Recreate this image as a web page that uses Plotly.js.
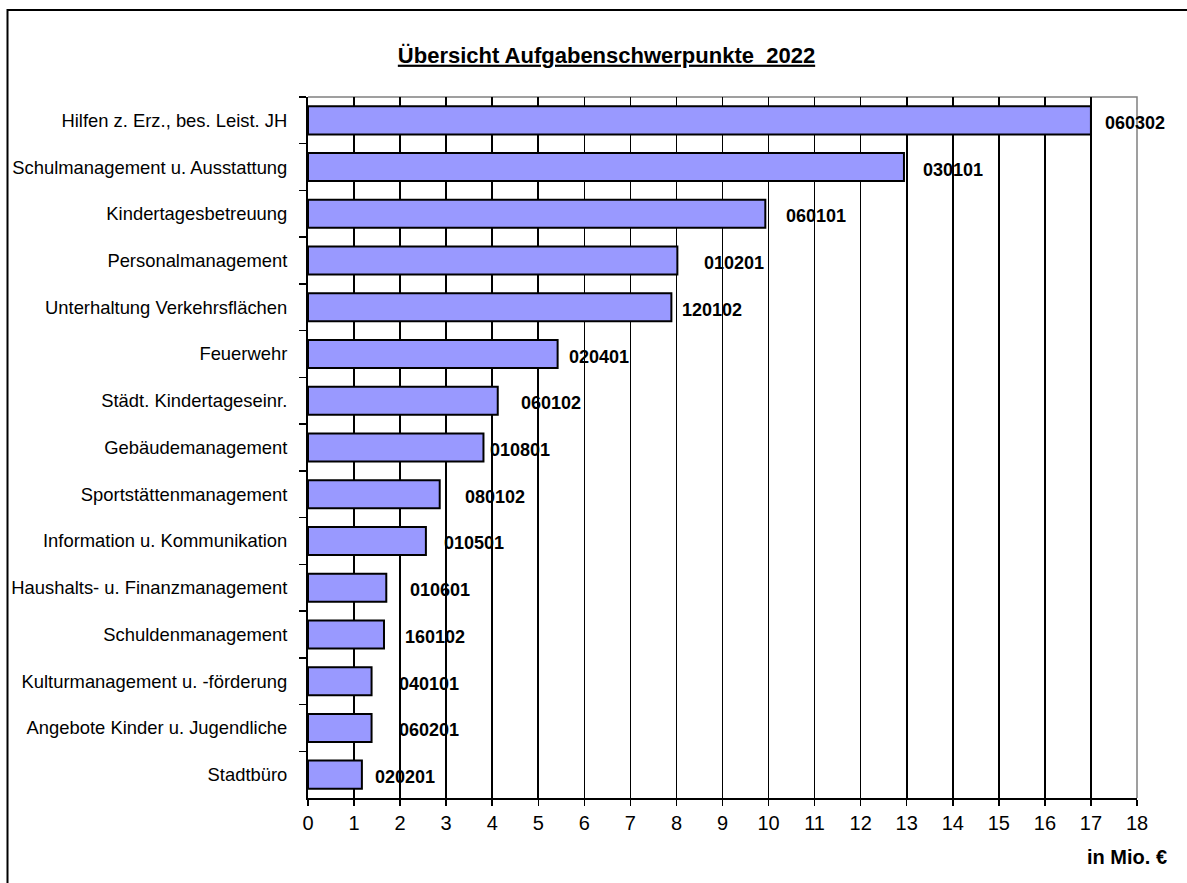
<!DOCTYPE html>
<html>
<head>
<meta charset="utf-8">
<script src="https://cdn.plot.ly/plotly-3.0.1.min.js"></script>
<style>html,body{margin:0;padding:0;background:#fff;}#chart{width:1187px;height:883px;}</style>
</head>
<body>
<div id="chart"></div>
<script>
// Data (top to bottom as in the chart)
const categories = [
  "Hilfen z. Erz., bes. Leist. JH",
  "Schulmanagement u. Ausstattung",
  "Kindertagesbetreuung",
  "Personalmanagement",
  "Unterhaltung Verkehrsflächen",
  "Feuerwehr",
  "Städt. Kindertageseinr.",
  "Gebäudemanagement",
  "Sportstättenmanagement",
  "Information u. Kommunikation",
  "Haushalts- u. Finanzmanagement",
  "Schuldenmanagement",
  "Kulturmanagement u. -förderung",
  "Angebote Kinder u. Jugendliche",
  "Stadtbüro"
];
const values = [17.0, 12.94, 9.93, 8.02, 7.89, 5.42, 4.12, 3.81, 2.86, 2.56, 1.70, 1.65, 1.38, 1.38, 1.17];
const productCodes = ["060302","030101","060101","010201","120102","020401","060102","010801","080102","010501","010601","160102","040101","060201","020201"];
const xTicks = [0,1,2,3,4,5,6,7,8,9,10,11,12,13,14,15,16,17,18];

// label pixel offsets to the right of bar ends (styling)
const labelShift = [13,18,20,26,10,10,22,6,24,17,23,20,26,26,12];

const FONT = "Liberation Sans, Arial, sans-serif";

const trace = {
  type: "bar",
  orientation: "h",
  y: categories,
  x: values,
  width: 0.6,
  marker: {color: "#9999FF", line: {color: "#000000", width: 2}},
  hoverinfo: "skip"
};

const annotations = productCodes.map((c, i) => ({
  x: values[i], y: categories[i], xref: "x", yref: "y",
  text: "<b>" + c + "</b>", showarrow: false,
  xanchor: "left", yanchor: "middle",
  xshift: labelShift[i] - 1, yshift: -2.5,
  font: {family: FONT, size: 18, color: "#000"}
}));

annotations.push({
  xref: "paper", yref: "paper", x: 1.0386, y: -0.084,
  xanchor: "right", yanchor: "middle", showarrow: false,
  text: "<b>in Mio. €</b>",
  font: {family: FONT, size: 20, color: "#000"}
});

const layout = {
  width: 1187, height: 883,
  margin: {l: 308, r: 50, t: 97, b: 85, pad: 0},
  paper_bgcolor: "#fff", plot_bgcolor: "#fff",
  showlegend: false,
  font: {family: FONT, size: 18, color: "#000"},
  title: {
    text: "<b>Übersicht Aufgabenschwerpunkte\u00a0 2022</b>",
    font: {family: FONT, size: 22, color: "#000", lineposition: "under"},
    x: 606.5/1187, xref: "container", xanchor: "center",
    y: 1 - 55/883, yref: "container", yanchor: "middle"
  },
  xaxis: {
    range: [0, 18], tickmode: "array", tickvals: xTicks, ticktext: xTicks.map(String),
    showgrid: true, gridcolor: "#000", gridwidth: 1.6,
    zeroline: false, showline: true, linecolor: "#000", linewidth: 2,
    ticks: "outside", ticklen: 6, tickwidth: 1.5, tickcolor: "#000",
    ticklabelstandoff: 0,
    tickfont: {family: FONT, size: 20, color: "#000"},
    fixedrange: true
  },
  yaxis: {
    type: "category", autorange: "reversed",
    showgrid: false, zeroline: false,
    showline: true, linecolor: "#000", linewidth: 2,
    ticks: "outside", ticklen: 7, tickwidth: 1.5, tickcolor: "#000",
    tickson: "boundaries",
    ticklabelstandoff: 15,
    tickfont: {family: FONT, size: 18.4, color: "#000"},
    fixedrange: true
  },
  bargap: 0.4,
  annotations: annotations,
  shapes: [
    {type: "path", xref: "paper", yref: "paper", layer: "below",
     path: "M 0,1 L 1,1 L 1,0", line: {color: "#808080", width: 1.5}},
    {type: "rect", xref: "paper", yref: "paper", layer: "below",
     x0: (7.5-308)/829, x1: 1.2, y0: -0.3, y1: (798-10)/701,
     line: {color: "#000", width: 2}, fillcolor: "rgba(0,0,0,0)"}
  ]
};

Plotly.newPlot("chart", [trace], layout, {displayModeBar: false, staticPlot: true});
</script>
</body>
</html>
